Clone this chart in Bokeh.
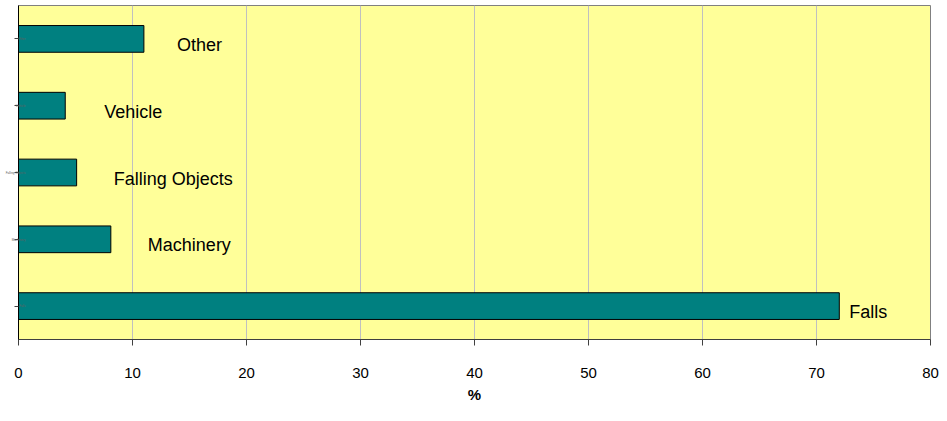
from bokeh.plotting import figure
from bokeh.models import ColumnDataSource, FactorRange, Range1d, FixedTicker
from bokeh.core.properties import value
from bokeh.embed import file_html
from bokeh.resources import INLINE

# Data (bottom to top)
categories = ["Falls", "Machinery", "Falling Objects", "Vehicle", "Other"]
percent = [72, 8.1, 5.1, 4.1, 11]
x_ticks = [0, 10, 20, 30, 40, 50, 60, 70, 80]
x_title = "%"

# style: pixel offsets of the data labels from the bar ends
label_dx = [10, 37, 37, 39, 33]

FONT = "Liberation Sans"

src = ColumnDataSource(dict(cat=categories, val=percent, dx=label_dx))

p = figure(
    width=939, height=405,
    y_range=FactorRange(factors=categories),
    x_range=Range1d(0, 80),
    output_backend="svg", toolbar_location=None,
    min_border_left=18, min_border_right=9, min_border_top=5, min_border_bottom=63,
)
p.background_fill_color = "#FFFF99"
p.border_fill_color = "white"
p.outline_line_color = "#808080"
p.outline_line_width = 1

p.hbar(y="cat", right="val", left=0, height=0.4, source=src,
       fill_color="#008080", line_color="black", line_width=1)

p.text(x="val", y="cat", text="cat", source=src, x_offset="dx", y_offset=6,
       text_font=value(FONT), text_font_size="18px", text_color="black",
       text_align="left", text_baseline="middle")

# x axis
p.xaxis.ticker = FixedTicker(ticks=x_ticks)
p.xaxis.minor_tick_line_color = None
p.xaxis.major_tick_out = 6
p.xaxis.major_tick_in = 0
p.xaxis.major_label_standoff = 22
p.xaxis.major_label_text_font = FONT
p.xaxis.major_label_text_font_size = "15px"
p.xaxis.major_label_text_color = "black"
p.xaxis.axis_line_color = "#404040"
p.xaxis.major_tick_line_color = "#404040"
p.xaxis.axis_label = x_title
p.xaxis.axis_label_text_font = FONT
p.xaxis.axis_label_text_font_size = "15px"
p.xaxis.axis_label_text_font_style = "bold"
p.xaxis.axis_label_text_color = "black"
p.xaxis.axis_label_standoff = 5

# y axis (category labels are tiny in the original)
p.yaxis.major_tick_out = 4
p.yaxis.major_tick_in = 0
p.yaxis.major_label_standoff = -11
p.yaxis.major_label_text_font = FONT
p.yaxis.major_label_text_font_size = "3px"
p.yaxis.major_label_text_color = "#606060"
p.yaxis.axis_line_color = "black"
p.yaxis.major_tick_line_color = "#404040"

p.xgrid.grid_line_color = "#C0C0C0"
p.xgrid.ticker = FixedTicker(ticks=x_ticks)
p.ygrid.grid_line_color = None

open("out.html", "w").write(file_html(p, INLINE))
